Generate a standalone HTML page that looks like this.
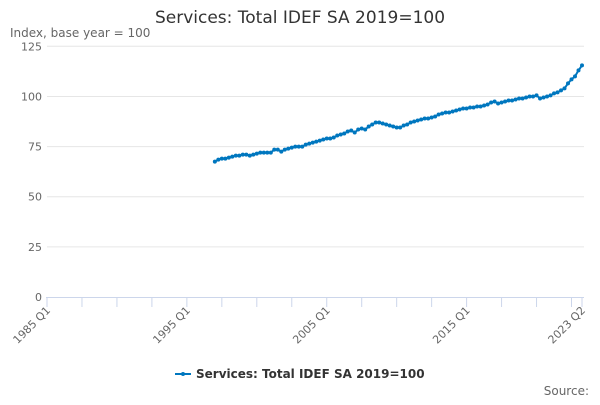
<!DOCTYPE html>
<html><head><meta charset="utf-8"><style>
body{margin:0;background:#fff;font-family:"Liberation Sans","DejaVu Sans",sans-serif}
svg text{font-family:"DejaVu Sans","Liberation Sans",sans-serif}
</style></head><body>
<svg id="chart" width="600" height="400">
<rect width="600" height="400" fill="#fff"/>
<text x="300" y="23" text-anchor="middle" font-size="17" fill="#333">Services: Total IDEF SA 2019=100</text>
<text x="10" y="37" font-size="12" fill="#666">Index, base year = 100</text>
<g id="grid"></g><g id="xaxis"></g><g id="series"></g>
<g>
<line x1="175" y1="374" x2="191" y2="374" stroke="#0077bf" stroke-width="2"/>
<circle cx="183" cy="374" r="2" fill="#0077bf"/>
<text x="196" y="378" font-size="12" font-weight="bold" fill="#333">Services: Total IDEF SA 2019=100</text>
</g>
<text x="589" y="395" text-anchor="end" font-size="12" fill="#666">Source:</text>
</svg>
<script>
const yTicks=[0,25,50,75,100,125];
const xLabels=["1985 Q1","1995 Q1","2005 Q1","2015 Q1","2023 Q2"];
const xLabelIdx=[0,40,80,120,153];
const startIdx=48;
const values=[67.5,68.5,69,69,69.5,70,70.5,70.5,71,71,70.5,71,71.5,72,72,72,
72,73.5,73.5,72.5,73.5,74,74.5,75,75,75,76,76.5,77,77.5,78,78.5,
79,79,79.5,80.5,81,81.5,82.5,83,82,83.5,84,83.5,85,86,87,87,
86.5,86,85.5,85,84.5,84.5,85.5,86,87,87.5,88,88.5,89,89,89.5,90,
91,91.5,92,92,92.5,93,93.5,94,94,94.5,94.5,95,95,95.5,96,97,
97.5,96.5,97,97.5,98,98,98.5,99,99,99.5,100,100,100.5,99,99.5,100,
100.5,101.5,102,103,104,106.5,108.5,110,113,115.5];
const NS="http://www.w3.org/2000/svg";
const x0=47,x1=582,nQ=153;
const xs=i=>x0+(x1-x0)*i/nQ;
const ys=v=>297-v*(297-46.3)/125;
function mk(t,a,p){const e=document.createElementNS(NS,t);for(const k in a)e.setAttribute(k,a[k]);p.appendChild(e);return e;}
const grid=document.getElementById('grid');
yTicks.forEach(v=>{
 if(v>0){const l=mk('line',{x1:x0,x2:x1+2,y1:ys(v),y2:ys(v),stroke:'#e6e6e6'},grid);
 
 }
 const t=mk('text',{x:42,y:ys(v)+4,'text-anchor':'end','font-size':11,fill:'#666'},grid);t.textContent=v;
 
 
});
const xa=document.getElementById('xaxis');
const ax=mk('line',{x1:x0-1,x2:x1+2,y1:297.5,y2:297.5,stroke:'#ccd6eb'},xa);


for(let i=0;i<=nQ;i+=10){mk('line',{x1:xs(i),x2:xs(i),y1:297,y2:307,stroke:'#ccd6eb'},xa);}
mk('line',{x1:xs(nQ),x2:xs(nQ),y1:297,y2:307,stroke:'#ccd6eb'},xa);
xLabels.forEach((s,k)=>{const x=xs(xLabelIdx[k])+4,y=311;
 const t=mk('text',{x:x,y:y,'text-anchor':'end','font-size':11,fill:'#666',transform:`rotate(-45 ${x} ${y})`},xa);t.textContent=s;
 
 });
const sg=document.getElementById('series');
const pts=values.map((v,i)=>xs(startIdx+i).toFixed(1)+','+ys(v).toFixed(1)).join(' ');
const pl=mk('polyline',{points:pts,fill:'none',stroke:'#0077bf','stroke-width':2},sg);


values.forEach((v,i)=>{const c=mk('circle',{cx:xs(startIdx+i),cy:ys(v),r:2,fill:'#0077bf'},sg);
 
 });
</script>
</body></html>
